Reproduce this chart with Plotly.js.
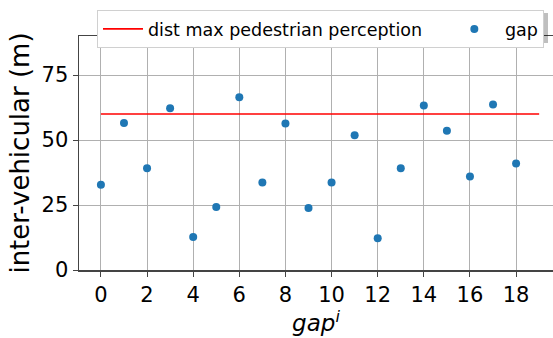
<!DOCTYPE html>
<html><head><meta charset="utf-8">
<script src="https://cdn.plot.ly/plotly-3.0.1.min.js"></script>
<style>html,body{margin:0;padding:0;background:#fff}#chart{width:553px;height:338px}</style>
</head><body><div id="chart"></div>
<script>
const gapIndex = [0,1,2,3,4,5,6,7,8,9,10,11,12,13,14,15,16,17,18];
const gapValues = [32.8,56.5,39.1,62.2,12.7,24.2,66.4,33.7,56.3,23.8,33.7,51.8,12.2,39.1,63.3,53.6,36.0,63.7,41.0];
const perceptionX = [0,19];
const perceptionY = [60,60];
const xTicks = [0,2,4,6,8,10,12,14,16,18];
const yTicks = [0,25,50,75];
const legendNames = ['dist max pedestrian perception', 'gap'];

const font = 'DejaVu Sans, sans-serif';
const traces = [
  {x: perceptionX, y: perceptionY, mode:'lines', name: legendNames[0] + '&nbsp;&nbsp;&nbsp;&nbsp;',
   line:{color:'#ff0000', width:1.6}},
  {x: gapIndex, y: gapValues, mode:'markers', name: '&nbsp;' + legendNames[1],
   marker:{color:'#1f77b4', size:8}}
];
function px2x(p){return (p-79)/474;}
function py2y(p){return (270-p)/234;}
const layout = {
  width:553, height:338,
  margin:{l:79, r:0, t:36, b:68, autoexpand:false},
  paper_bgcolor:'#fff', plot_bgcolor:'#fff',
  font:{family:font, color:'#000'},
  xaxis:{range:[-0.95,19.6], tickvals:xTicks, ticktext:xTicks.map(String),
    showgrid:true, gridcolor:'#b0b0b0', gridwidth:1, zeroline:false,
    showline:true, linecolor:'#444', linewidth:1.5, mirror:true,
    ticks:'outside', ticklen:5, tickcolor:'#444', tickfont:{size:21, family:font},
    title:{text:'<i>gap<sup>i</sup></i>', font:{size:23, family:font}, standoff:8}},
  yaxis:{range:[0,90], tickvals:yTicks, ticktext:yTicks.map(String),
    showgrid:true, gridcolor:'#b0b0b0', gridwidth:1, zeroline:false,
    showline:true, linecolor:'#444', linewidth:1.5,
    ticks:'outside', ticklen:5, tickcolor:'#444', tickfont:{size:21, family:font},
    title:{text:'inter-vehicular (m)', font:{size:26, family:font}, standoff:4}},
  showlegend:true,
  legend:{orientation:'h', xref:'container', yref:'container',
    x:97/553, y:1-10/338, xanchor:'left', yanchor:'top',
    bgcolor:'#fff', bordercolor:'#d0d0d0', borderwidth:1,
    font:{size:17.5, family:font}, itemwidth:40},
  shapes:[{type:'rect', xref:'paper', yref:'paper', layer:'above',
    x0:px2x(100), x1:px2x(548), y0:py2y(43), y1:py2y(13),
    fillcolor:'rgba(0,0,0,0.25)', line:{width:0}}]
};
Plotly.newPlot('chart', traces, layout, {displayModeBar:false, staticPlot:true});
</script></body></html>
